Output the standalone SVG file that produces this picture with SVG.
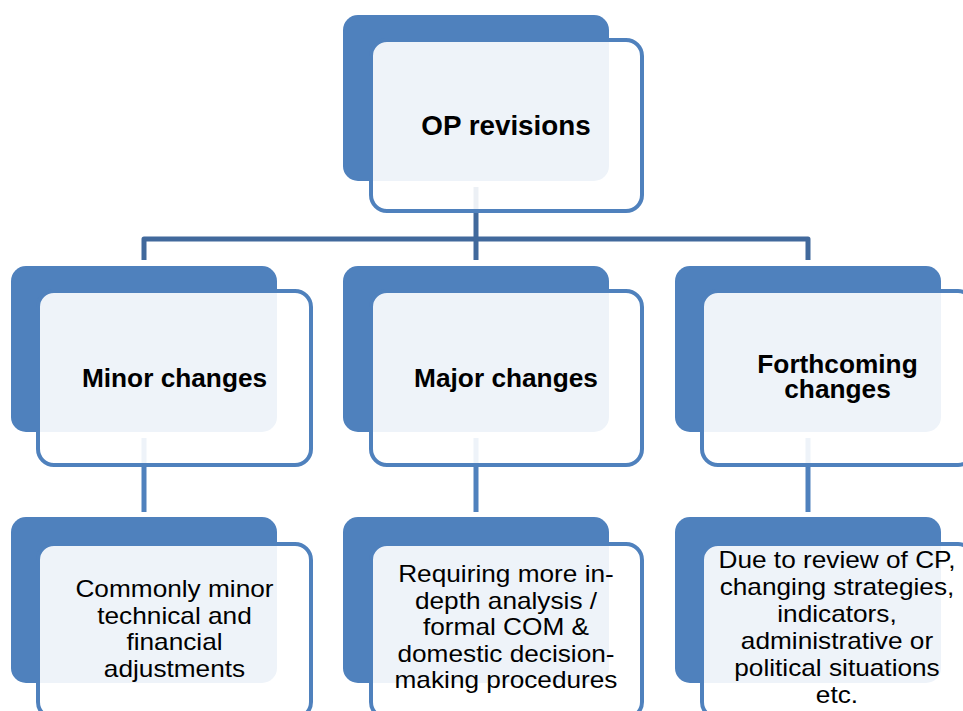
<svg xmlns="http://www.w3.org/2000/svg" width="963" height="711" viewBox="0 0 963 711">
  <style>
    .back { fill: #4F81BD; }
    .front { fill: #FFFFFF; fill-opacity: 0.9; stroke: #4F81BD; stroke-width: 4; }
    .conn-top { fill: none; stroke: #41699C; stroke-width: 5; stroke-linejoin: round; }
    .conn { fill: none; stroke: #4F81BD; stroke-width: 5; }
    .title { font-family: "Liberation Sans", Arial, sans-serif; font-weight: bold; font-size: 25px; text-anchor: middle; fill: #000; }
    .body { font-family: "Liberation Sans", Arial, sans-serif; font-size: 23px; text-anchor: middle; fill: #000; }
  </style>
  <rect width="963" height="711" fill="#FFFFFF"/>

  <g id="connectors">
    <line class="conn-top" x1="476" y1="187" x2="476" y2="239"/>
    <path class="conn-top" d="M144,260 V239 H808 V260"/>
    <line class="conn-top" x1="476" y1="239" x2="476" y2="260"/>
    <line class="conn" x1="144" y1="438" x2="144" y2="512"/>
    <line class="conn" x1="476" y1="438" x2="476" y2="512"/>
    <line class="conn" x1="808" y1="438" x2="808" y2="512"/>
  </g>

  <g id="node-op-revisions">
    <rect class="back" x="343" y="15" width="266" height="166" rx="15"/>
    <rect class="front" x="371" y="40" width="271" height="171" rx="16"/>
    <g transform="translate(506,0) scale(1.03,1)">
      <text class="title" x="0" y="135" style="font-size:27px">OP revisions</text>
    </g>
  </g>

  <g id="node-minor">
    <rect class="back" x="11" y="266" width="266" height="166" rx="15"/>
    <rect class="front" x="38" y="291" width="273" height="174" rx="16"/>
    <g transform="translate(174.5,0) scale(1.05,1)">
      <text class="title" x="0" y="387">Minor changes</text>
    </g>
  </g>

  <g id="node-major">
    <rect class="back" x="343" y="266" width="266" height="166" rx="15"/>
    <rect class="front" x="371" y="291" width="271" height="174" rx="16"/>
    <g transform="translate(506,0) scale(1.05,1)">
      <text class="title" x="0" y="387">Major changes</text>
    </g>
  </g>

  <g id="node-forthcoming">
    <rect class="back" x="675" y="266" width="266" height="166" rx="15"/>
    <rect class="front" x="702" y="291" width="272" height="174" rx="16"/>
    <g transform="translate(837.5,0) scale(1.05,1)">
      <text class="title" x="0" y="373">Forthcoming</text>
      <text class="title" x="0" y="398">changes</text>
    </g>
  </g>

  <g id="node-minor-detail">
    <rect class="back" x="11" y="517" width="266" height="166" rx="15"/>
    <rect class="front" x="38" y="544" width="273" height="174" rx="16"/>
    <g transform="translate(174.5,0) scale(1.14,1)">
      <text class="body" x="0" y="597">Commonly minor</text>
      <text class="body" x="0" y="623.7">technical and</text>
      <text class="body" x="0" y="650.4">financial</text>
      <text class="body" x="0" y="677">adjustments</text>
    </g>
  </g>

  <g id="node-major-detail">
    <rect class="back" x="343" y="517" width="266" height="166" rx="15"/>
    <rect class="front" x="371" y="544" width="271" height="174" rx="16"/>
    <g transform="translate(506,0) scale(1.14,1)">
      <text class="body" x="0" y="582">Requiring more in-</text>
      <text class="body" x="0" y="608.6">depth analysis /</text>
      <text class="body" x="0" y="635.2">formal COM &amp;</text>
      <text class="body" x="0" y="661.8">domestic decision-</text>
      <text class="body" x="0" y="688.4">making procedures</text>
    </g>
  </g>

  <g id="node-forthcoming-detail">
    <rect class="back" x="675" y="517" width="266" height="166" rx="15"/>
    <rect class="front" x="702" y="544" width="272" height="174" rx="16"/>
    <g transform="translate(837,0) scale(1.14,1)">
      <text class="body" x="0" y="568">Due to review of CP,</text>
      <text class="body" x="0" y="595">changing strategies,</text>
      <text class="body" x="0" y="622">indicators,</text>
      <text class="body" x="0" y="649.5">administrative or</text>
      <text class="body" x="0" y="676.5">political situations</text>
      <text class="body" x="0" y="703">etc.</text>
    </g>
  </g>
</svg>
